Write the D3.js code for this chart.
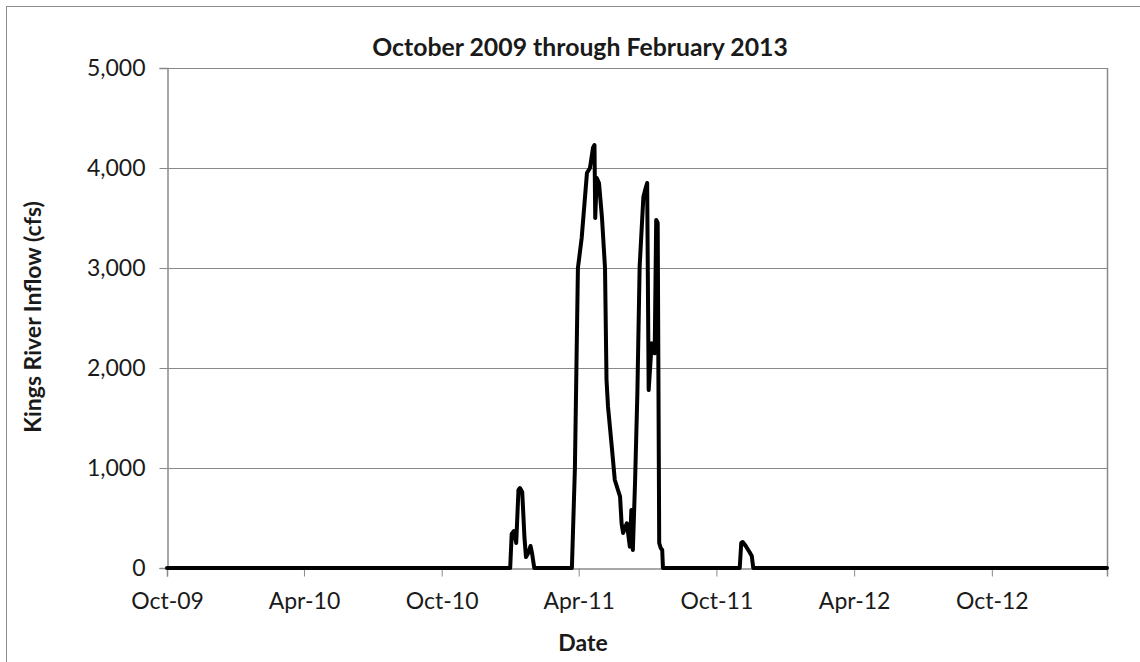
<!DOCTYPE html>
<html>
<head>
<meta charset="utf-8">
<script src="https://cdn.jsdelivr.net/npm/d3@7"></script>
<style>
  html, body { margin: 0; padding: 0; background: #fff; }
  svg { display: block; }
  text { font-family: Lato, "Open Sans", sans-serif; fill: #1a1a1a; }
</style>
</head>
<body>
<svg id="chart" width="1140" height="662"></svg>
<script>
// ---- data ----
const chartTitle = "October 2009 through February 2013";
const yTitle = "Kings River Inflow (cfs)";
const xTitle = "Date";

const dates = [
  "2009-10-01", "2010-12-31",
  "2011-01-02", "2011-01-05", "2011-01-08", "2011-01-11", "2011-01-13", "2011-01-16",
  "2011-01-19", "2011-01-21", "2011-01-24", "2011-01-27", "2011-01-29", "2011-02-01",
  "2011-03-23", "2011-03-27", "2011-03-29", "2011-03-31", "2011-04-05", "2011-04-12",
  "2011-04-16", "2011-04-20", "2011-04-22", "2011-04-23", "2011-04-25", "2011-04-28",
  "2011-05-02", "2011-05-06", "2011-05-08", "2011-05-10", "2011-05-15", "2011-05-19",
  "2011-05-26", "2011-05-28", "2011-05-30", "2011-06-04", "2011-06-08", "2011-06-10",
  "2011-06-12", "2011-06-15", "2011-06-18", "2011-06-21", "2011-06-26", "2011-06-29",
  "2011-07-01", "2011-07-03", "2011-07-07", "2011-07-11", "2011-07-13", "2011-07-15",
  "2011-07-17", "2011-07-19", "2011-07-21", "2011-07-22",
  "2011-11-01", "2011-11-03", "2011-11-05", "2011-11-09", "2011-11-14", "2011-11-17",
  "2011-11-19", "2013-03-03"
];
const flows = [
  0, 0,
  340, 370, 250, 780, 800, 760,
  300, 110, 150, 220, 150, 0,
  0, 1000, 2000, 3000, 3300, 3950,
  4000, 4200, 4230, 3500, 3900, 3850,
  3500, 3000, 1880, 1613, 1213, 880,
  713, 447, 350, 447, 213, 580,
  180, 880, 1750, 3013, 3713, 3800,
  3850, 1780, 2247, 2147, 3480, 3450,
  250, 200, 180, 0,
  0, 250, 260, 220, 160, 120,
  0, 0
];

const xTickDates = ["2009-10-01", "2010-04-01", "2010-10-01", "2011-04-01", "2011-10-01", "2012-04-01", "2012-10-01"];
const xTickLabels = ["Oct-09", "Apr-10", "Oct-10", "Apr-11", "Oct-11", "Apr-12", "Oct-12"];
const yTicks = [0, 1000, 2000, 3000, 4000, 5000];
const xDomain = ["2009-10-01", "2013-03-03"];
const yDomain = [0, 5000];

// ---- drawing ----
const parse = d3.timeParse("%Y-%m-%d");
const data = dates.map((d, i) => ({ date: parse(d), value: flows[i] }));

const svg = d3.select("#chart");
const plot = { left: 167, right: 1107, top: 68, bottom: 568 };

// outer chart frame (extends past the picture on the right and bottom)
svg.append("rect")
  .attr("x", 6.5).attr("y", 6.5)
  .attr("width", 1200).attr("height", 700)
  .attr("fill", "#fff")
  .attr("stroke", "#8c8c8c").attr("stroke-width", 1);

const x = d3.scaleTime().domain(xDomain.map(parse)).range([plot.left, plot.right]);
const y = d3.scaleLinear().domain(yDomain).range([plot.bottom, plot.top]);

// gridlines
svg.append("g")
  .selectAll("line")
  .data(yTicks.filter(t => t > 0))
  .join("line")
  .attr("x1", plot.left).attr("x2", plot.right)
  .attr("y1", d => Math.round(y(d)) + 0.5).attr("y2", d => Math.round(y(d)) + 0.5)
  .attr("stroke", "#8a8a8a").attr("stroke-width", 1);

// right plot border
svg.append("line")
  .attr("x1", plot.right + 0.5).attr("x2", plot.right + 0.5)
  .attr("y1", plot.top).attr("y2", plot.bottom)
  .attr("stroke", "#8a8a8a").attr("stroke-width", 1.5);

// y axis
const yAxis = d3.axisLeft(y).tickValues(yTicks).tickFormat(d3.format(",")).tickSize(8).tickPadding(14);
const gy = svg.append("g").attr("transform", `translate(${plot.left + 0.5},0)`).call(yAxis);
gy.select(".domain").attr("stroke", "#8a8a8a").attr("stroke-width", 1.5);
gy.selectAll(".tick line").attr("stroke", "#8a8a8a");
gy.selectAll(".tick text").attr("font-size", 23).attr("font-family", "Lato").attr("fill", "#1a1a1a");

// x axis
const xAxis = d3.axisBottom(x)
  .tickValues(xTickDates.map(parse))
  .tickFormat((d, i) => xTickLabels[i])
  .tickSize(8).tickPadding(16);
const gx = svg.append("g").attr("transform", `translate(0,${plot.bottom + 0.5})`).call(xAxis);
gx.select(".domain").attr("stroke", "#8a8a8a").attr("stroke-width", 1.5);
gx.selectAll(".tick line").attr("stroke", "#8a8a8a");
gx.selectAll(".tick text").attr("font-size", 23).attr("font-family", "Lato").attr("fill", "#1a1a1a");

// the series line
const line = d3.line().x(d => x(d.date)).y(d => y(d.value));
svg.append("path")
  .datum(data)
  .attr("d", line)
  .attr("fill", "none")
  .attr("stroke", "#000")
  .attr("stroke-width", 4)
  .attr("stroke-linejoin", "round")
  .attr("stroke-linecap", "round");

// titles
svg.append("text")
  .attr("x", 580).attr("y", 56)
  .attr("text-anchor", "middle")
  .attr("font-size", 24.8).attr("font-weight", "bold")
  .text(chartTitle);

svg.append("text")
  .attr("x", 583).attr("y", 651)
  .attr("text-anchor", "middle")
  .attr("font-size", 23).attr("font-weight", "bold")
  .text(xTitle);

svg.append("text")
  .attr("transform", "translate(41,317) rotate(-90)")
  .attr("text-anchor", "middle")
  .attr("font-size", 23).attr("font-weight", "bold")
  .text(yTitle);
</script>
</body>
</html>
